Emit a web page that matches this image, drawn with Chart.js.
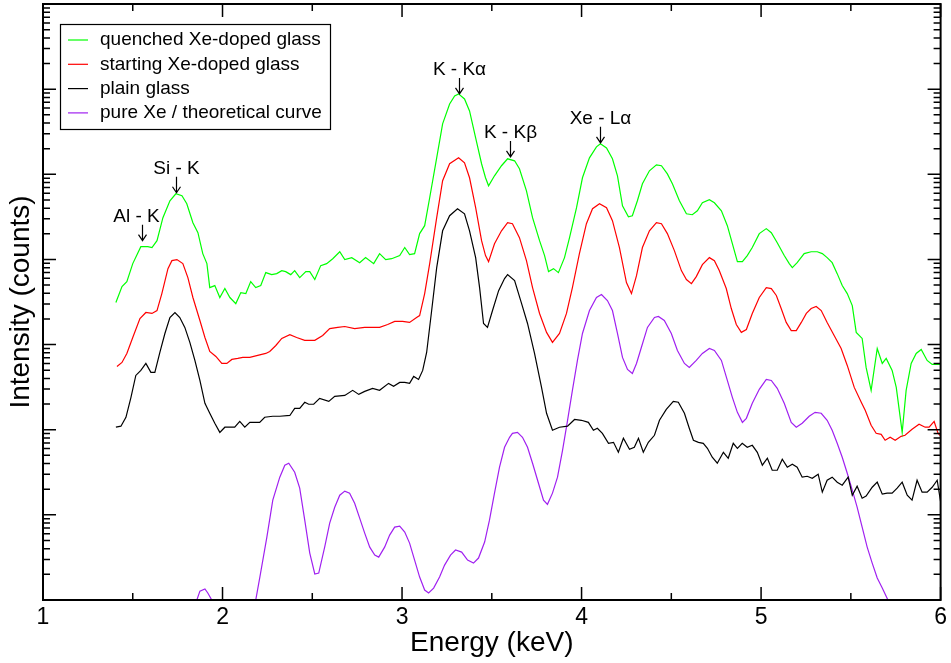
<!DOCTYPE html>
<html>
<head>
<meta charset="utf-8">
<script src="https://cdn.jsdelivr.net/npm/chart.js@4.4.0/dist/chart.umd.min.js"></script>
<style>
  html, body { margin: 0; padding: 0; background: #fff; }
  canvas { display: block; }
</style>
</head>
<body>
<canvas id="spectra" width="951" height="663"></canvas>
<script>
// XRF spectra, energy in keV, intensity in counts (log axis)
const seriesNames = ['quenched Xe-doped glass', 'starting Xe-doped glass', 'plain glass', 'pure Xe / theoretical curve'];
const seriesColors = ['#00ff00', '#ff0000', '#000000', '#a020f0'];

const quenched = [[1.406,3120],[1.44,4800],[1.467,5490],[1.5,8930],[1.545,14100],[1.584,14100],[1.607,13800],[1.635,16600],[1.668,30900],[1.707,48900],[1.74,59000],[1.774,56000],[1.801,45100],[1.835,27000],[1.863,20600],[1.89,11700],[1.913,8930],[1.929,4670],[1.957,4930],[1.985,3570],[2.013,4550],[2.041,3570],[2.074,3030],[2.102,4080],[2.13,3970],[2.157,5490],[2.185,4670],[2.213,4930],[2.241,7000],[2.274,6630],[2.302,6810],[2.33,7390],[2.352,7190],[2.38,6630],[2.402,7390],[2.43,6120],[2.464,7190],[2.486,7190],[2.514,5800],[2.547,8460],[2.58,8930],[2.614,10200],[2.653,12300],[2.681,9950],[2.72,10500],[2.764,9170],[2.797,10500],[2.842,8930],[2.875,11700],[2.909,9950],[2.942,10200],[2.987,11100],[3.015,13800],[3.042,11400],[3.07,11700],[3.098,20100],[3.126,24900],[3.154,53000],[3.193,156000],[3.226,391000],[3.265,670000],[3.293,832000],[3.315,879000],[3.348,767000],[3.376,555000],[3.41,268000],[3.443,133000],[3.465,91000],[3.482,73300],[3.515,96000],[3.554,126000],[3.588,152000],[3.627,144000],[3.654,116000],[3.693,64000],[3.727,30900],[3.766,16600],[3.794,11100],[3.816,7190],[3.844,7800],[3.871,7000],[3.905,10500],[3.933,18000],[3.972,40500],[4.005,91000],[4.044,156000],[4.083,210000],[4.105,228000],[4.139,204000],[4.172,152000],[4.2,96000],[4.228,42700],[4.261,31700],[4.283,32600],[4.311,48900],[4.339,77400],[4.378,110000],[4.417,129000],[4.445,126000],[4.478,101000],[4.506,77400],[4.545,48900],[4.584,34400],[4.617,33500],[4.645,37300],[4.673,46300],[4.712,50200],[4.74,46300],[4.779,37300],[4.812,24900],[4.84,15300],[4.868,9420],[4.896,9420],[4.923,11100],[4.951,13800],[4.99,20100],[5.029,23000],[5.057,20600],[5.09,15700],[5.129,11100],[5.157,8930],[5.174,8010],[5.201,9170],[5.24,11700],[5.279,12300],[5.313,12300],[5.341,11700],[5.368,10500],[5.396,9170],[5.424,6810],[5.452,4930],[5.48,3970],[5.508,2870],[5.53,1390],[5.563,1180],[5.585,539],[5.613,290],[5.647,900],[5.675,600],[5.697,687],[5.73,497],[5.753,314],[5.786,93],[5.808,290],[5.836,600],[5.864,787],[5.892,876],[5.925,651],[5.953,585],[6.0,585]];

const starting = [[1.412,554],[1.44,617],[1.467,787],[1.5,1210],[1.54,2020],[1.573,2380],[1.607,2320],[1.635,2510],[1.662,3970],[1.696,7800],[1.718,9680],[1.746,9950],[1.779,8930],[1.807,6120],[1.835,3570],[1.874,1920],[1.902,1210],[1.929,830],[1.963,725],[1.996,600],[2.024,600],[2.052,669],[2.085,687],[2.113,706],[2.152,706],[2.196,745],[2.241,787],[2.263,830],[2.297,975],[2.33,1180],[2.375,1310],[2.413,1210],[2.458,1120],[2.514,1120],[2.558,1280],[2.597,1540],[2.642,1590],[2.681,1630],[2.736,1540],[2.792,1590],[2.875,1590],[2.92,1720],[2.959,1870],[3.003,1870],[3.042,1820],[3.081,2080],[3.098,2190],[3.126,3970],[3.154,8930],[3.193,30900],[3.226,83900],[3.265,133000],[3.315,156000],[3.348,136000],[3.376,91000],[3.41,40500],[3.443,16600],[3.465,11100],[3.482,9420],[3.515,15300],[3.554,21700],[3.588,27000],[3.615,26300],[3.654,18000],[3.693,9680],[3.727,4670],[3.766,2320],[3.805,1390],[3.838,1060],[3.877,1350],[3.916,2320],[3.949,4670],[3.988,11700],[4.027,26300],[4.061,39400],[4.1,45100],[4.139,40500],[4.172,28500],[4.211,13800],[4.25,5350],[4.278,3970],[4.306,6450],[4.339,13800],[4.378,21700],[4.417,27000],[4.445,26300],[4.478,20100],[4.517,12700],[4.556,7390],[4.584,5800],[4.612,5200],[4.639,6280],[4.673,8690],[4.712,10500],[4.74,9680],[4.767,7390],[4.806,4550],[4.834,2650],[4.862,1720],[4.89,1390],[4.918,1500],[4.951,2320],[4.99,3570],[5.029,4670],[5.057,4550],[5.085,3770],[5.112,2650],[5.14,1820],[5.168,1460],[5.196,1460],[5.224,1820],[5.252,2320],[5.279,2650],[5.307,2800],[5.335,2510],[5.368,1820],[5.407,1280],[5.446,900],[5.48,569],[5.519,314],[5.558,210],[5.58,169],[5.613,113],[5.641,90.7],[5.669,88.3],[5.691,75.1],[5.719,81.5],[5.747,75.1],[5.78,83.7],[5.802,86],[5.841,101],[5.88,116],[5.914,107],[5.936,107],[5.964,125],[5.986,90.7],[6.008,81.5]];

const plain = [[1.406,107],[1.434,110],[1.462,140],[1.49,240],[1.517,434],[1.545,497],[1.573,600],[1.601,471],[1.623,471],[1.651,808],[1.679,1350],[1.707,2080],[1.735,2380],[1.762,2080],[1.79,1590],[1.818,1060],[1.846,651],[1.874,379],[1.902,204],[1.929,156],[1.957,119],[1.985,93],[2.013,107],[2.041,107],[2.068,107],[2.096,125],[2.124,107],[2.152,122],[2.207,122],[2.235,140],[2.28,144],[2.319,144],[2.375,147],[2.402,178],[2.43,178],[2.458,210],[2.48,199],[2.508,199],[2.541,233],[2.592,215],[2.625,247],[2.681,253],[2.725,290],[2.759,260],[2.792,282],[2.836,306],[2.875,290],[2.925,350],[2.953,323],[2.987,359],[3.015,359],[3.042,350],[3.065,423],[3.092,390],[3.115,497],[3.137,808],[3.165,2510],[3.193,8010],[3.226,21700],[3.265,32600],[3.309,39400],[3.348,34400],[3.376,21700],[3.41,10500],[3.432,4670],[3.454,1770],[3.476,1590],[3.504,2510],[3.538,4300],[3.571,5960],[3.588,6630],[3.627,5640],[3.666,3030],[3.699,1770],[3.738,787],[3.777,314],[3.805,156],[3.838,98.4],[3.877,107],[3.922,110],[3.961,132],[3.999,129],[4.038,122],[4.066,98.4],[4.088,104],[4.116,90.7],[4.15,69.2],[4.178,71.1],[4.205,54.3],[4.233,79.3],[4.267,58.9],[4.294,62.2],[4.317,79.3],[4.344,54.3],[4.372,71.1],[4.406,86],[4.434,129],[4.472,173],[4.511,215],[4.539,210],[4.573,156],[4.6,104],[4.623,75.1],[4.651,71.1],[4.678,69.2],[4.701,60.5],[4.728,47.5],[4.756,40.4],[4.79,54.3],[4.817,46.2],[4.845,69.2],[4.868,60.5],[4.895,69.2],[4.923,62.2],[4.951,65.6],[4.979,54.3],[5.007,38.3],[5.035,46.2],[5.062,33.4],[5.09,33.4],[5.118,45],[5.146,36.3],[5.174,39.3],[5.201,36.3],[5.229,27.7],[5.257,28.4],[5.285,26.9],[5.318,30],[5.341,18.5],[5.368,25.5],[5.396,27.7],[5.424,24.2],[5.452,22.3],[5.485,27.7],[5.508,17],[5.535,21.7],[5.563,15.7],[5.585,16.6],[5.619,21.1],[5.647,24.2],[5.675,17.5],[5.702,18],[5.73,18],[5.758,20.6],[5.786,24.2],[5.814,17],[5.841,14.9],[5.869,25.5],[5.897,18.5],[5.925,18.5],[5.953,21.1],[5.981,25.5],[6.003,13]];

const pureXe = [[1.8,0.5],[1.857,1],[1.874,1.27],[1.902,1.35],[1.918,1.21],[1.94,1],[1.974,0.51],[2.05,0.2],[2.12,0.2],[2.16,0.45],[2.185,1],[2.208,1.86],[2.247,5.48],[2.28,14.9],[2.319,27.7],[2.347,38.3],[2.369,40.4],[2.402,31.7],[2.43,20.6],[2.458,8.67],[2.486,3.56],[2.514,2.02],[2.536,2.07],[2.569,4.18],[2.597,8],[2.625,12.3],[2.653,17],[2.681,19],[2.708,18],[2.736,13.7],[2.764,9.15],[2.792,6.1],[2.82,4.18],[2.848,3.37],[2.87,3.19],[2.903,4.18],[2.931,5.78],[2.959,7.17],[2.987,7.37],[3.015,6.27],[3.042,4.66],[3.07,2.94],[3.098,1.86],[3.126,1.31],[3.148,1.21],[3.176,1.38],[3.209,1.86],[3.237,2.57],[3.27,3.37],[3.298,3.86],[3.332,3.65],[3.365,2.94],[3.398,2.71],[3.426,3.11],[3.46,4.79],[3.487,8.67],[3.515,18],[3.543,36.3],[3.571,62.2],[3.599,81.5],[3.615,90.7],[3.643,93],[3.671,81.5],[3.699,62.2],[3.727,40.4],[3.76,23.5],[3.788,14.9],[3.81,13.3],[3.838,18],[3.866,27.7],[3.894,57.3],[3.922,129],[3.949,290],[3.977,651],[4.005,1350],[4.044,2510],[4.083,3570],[4.111,3870],[4.144,3290],[4.172,2510],[4.2,1350],[4.228,706],[4.256,511],[4.283,458],[4.306,600],[4.333,925],[4.367,1590],[4.406,2080],[4.428,2140],[4.461,1920],[4.5,1350],[4.534,853],[4.573,600],[4.6,539],[4.639,651],[4.673,787],[4.712,900],[4.74,853],[4.779,651],[4.812,379],[4.84,240],[4.868,160],[4.896,122],[4.918,136],[4.951,204],[4.99,298],[5.029,390],[5.057,379],[5.09,306],[5.129,204],[5.168,122],[5.196,107],[5.229,119],[5.268,144],[5.301,160],[5.335,156],[5.368,129],[5.396,98.4],[5.424,69.2],[5.452,47.5],[5.48,30.8],[5.508,19.5],[5.535,12.3],[5.563,7.17],[5.591,4.18],[5.619,2.71],[5.647,1.81],[5.675,1.38],[5.702,1.05],[5.741,0.67],[5.797,0.34],[5.88,0.12],[5.99,0.04]];

// peak markers: label, energy, counts at the arrow tip
const peakLabels = ['Al - K', 'Si - K', 'K - K\u03b1', 'K - K\u03b2', 'Xe - L\u03b1'];
const peakEnergy = [1.55, 1.74, 3.315, 3.6, 4.105];
const peakCounts = [16600, 60700, 879000, 160000, 234000];

const xTicks = [1, 2, 3, 4, 5, 6];

const FONT = '"Liberation Sans", Arial, Helvetica, sans-serif';

const toPoints = arr => arr.map(p => ({x: p[0], y: p[1]}));
const allSeries = [quenched, starting, plain, pureXe];

const frameAndTicks = {
    id: 'frameAndTicks',
    afterDraw(chart) {
        const {ctx, chartArea: a, scales: {x, y}} = chart;
        ctx.save();
        ctx.strokeStyle = '#000';
        ctx.lineWidth = 1.5;
        ctx.beginPath();
        // x ticks, bottom and top, pointing in
        for (let v = 1; v <= 6.001; v += 0.5) {
            const px = x.getPixelForValue(v);
            const len = Number.isInteger(v) ? 13 : 7;
            ctx.moveTo(px, a.bottom); ctx.lineTo(px, a.bottom - len);
            ctx.moveTo(px, a.top); ctx.lineTo(px, a.top + len);
        }
        // log y ticks, left and right
        for (let k = 0; k <= 6; k++) {
            for (let m = 1; m <= 9; m++) {
                const py = y.getPixelForValue(m * Math.pow(10, k));
                const len = m === 1 ? 13 : 7;
                ctx.moveTo(a.left, py); ctx.lineTo(a.left + len, py);
                ctx.moveTo(a.right, py); ctx.lineTo(a.right - len, py);
            }
        }
        ctx.stroke();
        ctx.lineWidth = 2;
        ctx.strokeRect(a.left, a.top, a.right - a.left, a.bottom - a.top);

        // peak labels with down arrows
        ctx.lineWidth = 1.2;
        ctx.fillStyle = '#000';
        ctx.font = '19px ' + FONT;
        ctx.textAlign = 'center';
        ctx.textBaseline = 'alphabetic';
        peakLabels.forEach((lab, i) => {
            const px = Math.round(x.getPixelForValue(peakEnergy[i])) + 0.5;
            const tip = y.getPixelForValue(peakCounts[i]);
            ctx.beginPath();
            ctx.moveTo(px, tip - 16); ctx.lineTo(px, tip);
            ctx.moveTo(px - 4, tip - 6); ctx.lineTo(px, tip); ctx.lineTo(px + 4, tip - 6);
            ctx.stroke();
            ctx.fillText(lab, i === 0 ? px - 6 : px, tip - 19);
        });

        // legend box
        ctx.fillStyle = '#fff';
        ctx.fillRect(60, 24, 270, 105);
        ctx.lineWidth = 1.2;
        ctx.strokeStyle = '#000';
        ctx.strokeRect(60.5, 24.5, 270, 105);
        ctx.textAlign = 'left';
        ctx.textBaseline = 'middle';
        ctx.font = '19px ' + FONT;
        seriesNames.forEach((name, i) => {
            const ry = 40 + i * 24.3;
            ctx.strokeStyle = seriesColors[i];
            ctx.beginPath();
            ctx.moveTo(68, ry); ctx.lineTo(88, ry);
            ctx.stroke();
            ctx.fillStyle = '#000';
            ctx.fillText(name, 100, ry);
        });
        ctx.restore();
    }
};

new Chart(document.getElementById('spectra'), {
    type: 'line',
    data: {
        datasets: allSeries.map((s, i) => ({
            label: seriesNames[i],
            data: toPoints(s),
            borderColor: seriesColors[i],
            borderWidth: 1.2,
            pointRadius: 0,
            tension: 0,
            fill: false
        }))
    },
    options: {
        responsive: false,
        animation: false,
        devicePixelRatio: 1,
        layout: {padding: {top: 4, right: 10, left: 0, bottom: 0}},
        plugins: {legend: {display: false}, tooltip: {enabled: false}},
        scales: {
            x: {
                type: 'linear',
                min: 1,
                max: 6,
                afterBuildTicks: scale => { scale.ticks = xTicks.map(v => ({value: v})); },
                afterFit: scale => { scale.height = 63; },
                grid: {display: false, drawTicks: false},
                border: {display: false},
                ticks: {color: '#000', font: {family: FONT, size: 23}, padding: 4, maxRotation: 0},
                title: {display: true, text: 'Energy (keV)', color: '#000',
                    font: {family: FONT, size: 28}, padding: {top: 0, bottom: 3}}
            },
            y: {
                type: 'logarithmic',
                min: 1,
                max: 1e7,
                afterFit: scale => { scale.width = 43; },
                grid: {display: false, drawTicks: false},
                border: {display: false},
                ticks: {display: false},
                title: {display: true, text: 'Intensity (counts)', color: '#000',
                    font: {family: FONT, size: 28}, padding: {top: 4, bottom: 0}}
            }
        }
    },
    plugins: [frameAndTicks]
});
</script>
</body>
</html>
